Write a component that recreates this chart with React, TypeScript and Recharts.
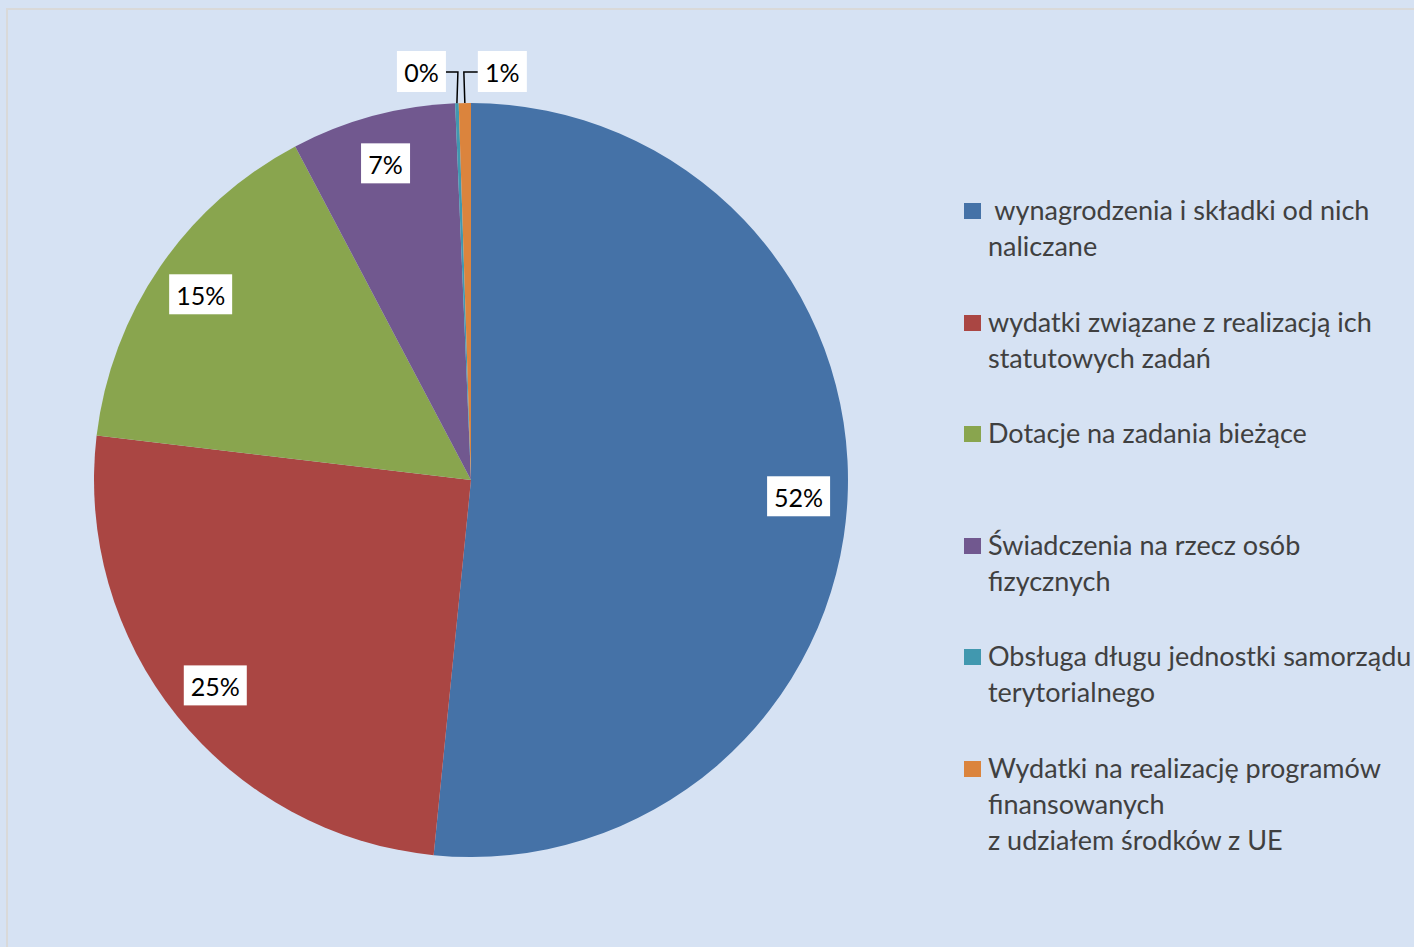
import { PieChart, Pie, Cell } from 'recharts'

const categories = [
  ' wynagrodzenia i składki od nich\nnaliczane',
  'wydatki związane z realizacją ich\nstatutowych zadań',
  'Dotacje na zadania bieżące',
  'Świadczenia na rzecz osób\nfizycznych',
  'Obsługa długu jednostki samorządu\nterytorialnego',
  'Wydatki na realizację programów\nfinansowanych\nz udziałem środków z UE',
]
const shares = [51.58, 25.3, 15.4, 7.05, 0.15, 0.52]
const colors = ['#4572A7', '#AA4643', '#89A54E', '#71588F', '#4198AF', '#DB843D']

const data = categories.map((name, i) => ({ name, value: shares[i] }))

const RADIAN = Math.PI / 180
const FONT = 'Lato, "Open Sans", sans-serif'

const renderLabel = (props: any) => {
  const { cx, cy, midAngle, outerRadius, percent, index } = props
  const text = `${Math.round(percent * 100)}%`
  const cos = Math.cos(-midAngle * RADIAN)
  const sin = Math.sin(-midAngle * RADIAN)

  if (percent < 0.02) {
    // tiny slices: label outside with a bent leader line, last slice goes right
    const ex = cx + outerRadius * cos
    const ey = cy + outerRadius * sin
    const elbowY = cy - outerRadius - 31
    const left = index !== data.length - 1
    const vx = left ? ex + 1 : ex - 1
    const hx = left ? vx - 12 : vx + 14
    const bw = 49
    const bx = left ? hx - bw : hx
    return (
      <g key={`lbl-${index}`}>
        <polyline
          points={`${ex},${ey} ${vx},${elbowY} ${hx},${elbowY}`}
          fill="none"
          stroke="#000"
          strokeWidth={1.5}
        />
        <rect x={bx} y={elbowY - 21} width={bw} height={41} fill="#fff" />
        <text x={bx + bw / 2} y={elbowY} textAnchor="middle" dominantBaseline="central"
          fontSize={25} fontFamily={FONT} fill="#000">
          {text}
        </text>
      </g>
    )
  }

  const r = outerRadius * 0.87
  const x = cx + r * cos
  const y = cy + r * sin
  const bw = text.length > 2 ? 63 : 49
  return (
    <g key={`lbl-${index}`}>
      <rect x={x - bw / 2} y={y - 20} width={bw} height={40} fill="#fff" />
      <text x={x} y={y + 1} textAnchor="middle" dominantBaseline="central"
        fontSize={25} fontFamily={FONT} fill="#000">
        {text}
      </text>
    </g>
  )
}

export default function App() {
  return (
    <div style={{ position: 'fixed', left: 0, top: 0, width: 1414, height: 947, background: '#D6E2F3', overflow: 'hidden' }}>
      <div style={{ position: 'absolute', left: 6, top: 8, width: 1500, height: 1000, border: '2px solid #D9D9D9', boxSizing: 'border-box' }} />
      <div style={{ position: 'absolute', left: 0, top: 0 }}>
        <PieChart width={1414} height={947} margin={{ top: 0, right: 0, bottom: 0, left: 0 }}>
          <Pie
            data={data}
            dataKey="value"
            nameKey="name"
            cx={471}
            cy={480}
            outerRadius={377}
            startAngle={90}
            endAngle={-270}
            stroke="none"
            label={renderLabel}
            labelLine={false}
            isAnimationActive={false}
          >
            {data.map((_, i) => (
              <Cell key={i} fill={colors[i]} />
            ))}
          </Pie>
        </PieChart>
      </div>
      <div style={{ position: 'absolute', left: 964, top: 192, width: 450, height: 700 }}>
        {categories.map((name, i) => (
          <div key={i} style={{ position: 'absolute', left: 0, top: i * 111.6, display: 'flex' }}>
            <div style={{ width: 17, height: 16, background: colors[i], marginTop: 11, marginRight: 7, flex: 'none' }} />
            <div style={{ whiteSpace: 'pre', fontSize: 27, lineHeight: '36px', color: '#404040', fontFamily: FONT }}>
              {name}
            </div>
          </div>
        ))}
      </div>
    </div>
  )
}
